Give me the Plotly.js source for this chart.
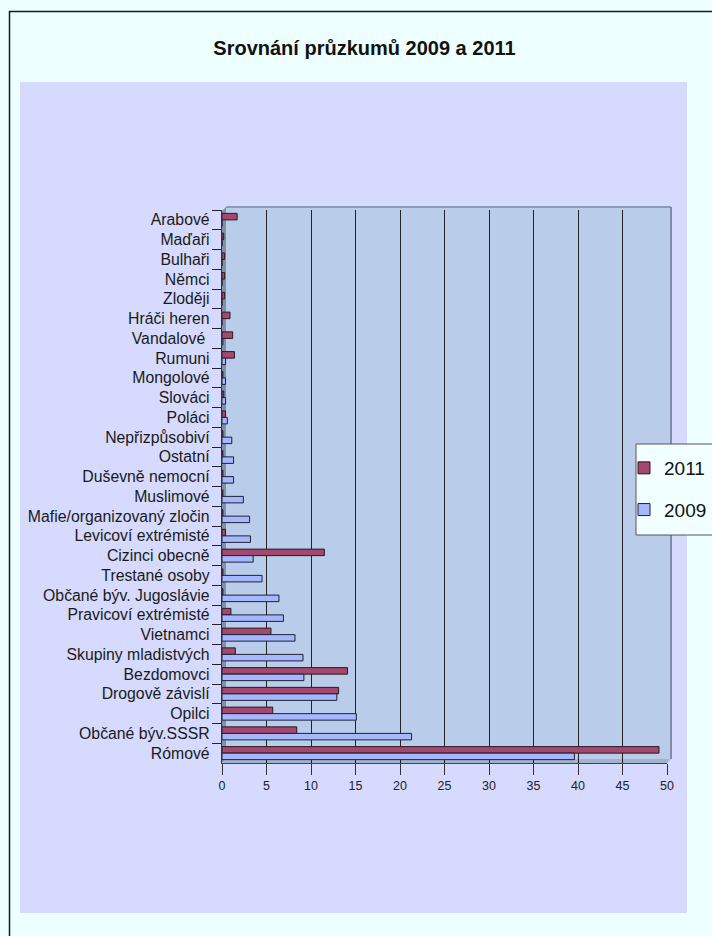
<!DOCTYPE html>
<html>
<head>
<meta charset="utf-8">
<script src="https://cdn.plot.ly/plotly-3.0.1.min.js"></script>
<style>html,body{margin:0;padding:0;background:#EEFFFF;}#chart{width:712px;height:936px;}</style>
</head>
<body>
<div id="chart"></div>
<script>
// Categories, top to bottom as in the reference
const categories = ["Arabové","Maďaři","Bulhaři","Němci","Zloději","Hráči heren","Vandalové\u00a0","Rumuni","Mongolové","Slováci","Poláci","Nepřizpůsobiví","Ostatní","Duševně nemocní","Muslimové","Mafie/organizovaný zločin","Levicoví extrémisté","Cizinci obecně","Trestané osoby","Občané býv. Jugoslávie","Pravicoví extrémisté","Vietnamci","Skupiny mladistvých","Bezdomovci","Drogově závislí","Opilci","Občané býv.SSSR","Rómové"];
const values2011 = [1.7,0.2,0.3,0.3,0.3,0.9,1.2,1.4,0.1,0.2,0.4,0.1,0.1,0.1,0.1,0.1,0.4,11.5,0.1,0.1,1.0,5.5,1.5,14.1,13.1,5.7,8.4,49.1];
const values2009 = [0,0,0,0,0,0,0.1,0.4,0.4,0.4,0.6,1.1,1.3,1.3,2.4,3.1,3.2,3.5,4.5,6.4,6.9,8.2,9.1,9.2,12.9,15.1,21.3,39.6];
const seriesNames = ["2011","2009"];
const xTicks = [0,5,10,15,20,25,30,35,40,45,50];

const W = 712, H = 936;
const L = 222, R = 45, T = 210, B = 173;
const PW = W - L - R, PH = H - T - B;
const px = x => (x - L) / PW;
const py = y => (H - B - y) / PH;

const FONT = "Liberation Sans, Arial, Helvetica, sans-serif";

const traces = [
  {type:'bar', orientation:'h', name:seriesNames[0], y:categories, x:values2011,
   marker:{color:'#A3496F', line:{color:'#2a1a22', width:1}}, legendgroup:'a'},
  {type:'bar', orientation:'h', name:seriesNames[1], y:categories, x:values2009,
   marker:{color:'#A6B6FF', line:{color:'#1e2233', width:1}}, legendgroup:'b'}
];

function rect(x0,y0,x1,y1,fill,line,layer){
  return {type:'rect', xref:'paper', yref:'paper', x0:px(x0), x1:px(x1), y0:py(y1), y1:py(y0),
    fillcolor:fill, line:line||{width:0}, layer:layer||'below'};
}
function poly(pts,fill,layer){
  let d = pts.map((p,i)=>(i?'L':'M')+px(p[0])+','+py(p[1])).join(' ')+' Z';
  return {type:'path', xref:'paper', yref:'paper', path:d, fillcolor:fill, line:{width:0}, layer:layer||'below'};
}
function seg(x0,y0,x1,y1,color,w,layer){
  return {type:'line', xref:'paper', yref:'paper', x0:px(x0), x1:px(x1), y0:py(y0), y1:py(y1),
    line:{color:color, width:w}, layer:layer||'below'};
}

const shapes = [
  rect(9.5,11.5,740,960,'rgba(0,0,0,0)',{color:'#1a1a1a',width:1.5}),
  rect(20,82,687,913,'#D5DAFE'),
  rect(226,207,671,759,'#B9CDEA'),
  poly([[222,763],[222,211],[226,207],[226,759]],'#8192A8'),
  poly([[222,763],[226,759],[671,759],[667,763]],'#A3B2CB'),
  seg(226,207,671,207,'#8C9AB4',2),
  seg(671,207,671,759,'#7F8DA6',2),
  rect(636,444,740,535,'#F2FFFF',{color:'#555',width:1},'above')
];

const layout = {
  width:W, height:H,
  margin:{l:L, r:R, t:T, b:B, autoexpand:false},
  paper_bgcolor:'#EEFFFF',
  plot_bgcolor:'rgba(0,0,0,0)',
  font:{family:FONT, color:'#111'},
  title:{text:'<b>Srovnání průzkumů 2009 a 2011</b>', font:{family:FONT, size:20, color:'#111'},
    xref:'container', yref:'container', x:364.5/W, xanchor:'center', y:1-48/H, yanchor:'middle'},
  barmode:'group',
  bargap:0.34,
  bargroupgap:0,
  xaxis:{range:[0,50], tickvals:xTicks, ticks:'outside', ticklen:11, tickcolor:'#333',
    showgrid:true, gridcolor:'#222', gridwidth:1, zeroline:false,
    showline:true, linecolor:'#444', linewidth:1,
    tickfont:{family:FONT, size:12.5, color:'#222'}, fixedrange:true, automargin:false},
  yaxis:{type:'category', autorange:'reversed', ticks:'outside', ticklen:9, tickcolor:'#222',
    tickson:'boundaries', showgrid:false, showline:true, linecolor:'#333', linewidth:1.2,
    ticklabelstandoff:8, automargin:false,
    tickfont:{family:FONT, size:15.8, color:'#1a1a1a'}, fixedrange:true},
  legend:{x:px(624), xanchor:'left', y:py(449), yanchor:'top', bgcolor:'rgba(0,0,0,0)',
    borderwidth:0, font:{family:FONT, size:19, color:'#111'}, tracegroupgap:14, traceorder:'grouped',
    itemwidth:30},
  showlegend:true,
  shapes:shapes
};

Plotly.newPlot('chart', traces, layout, {displayModeBar:false, staticPlot:true});
</script>
</body>
</html>
